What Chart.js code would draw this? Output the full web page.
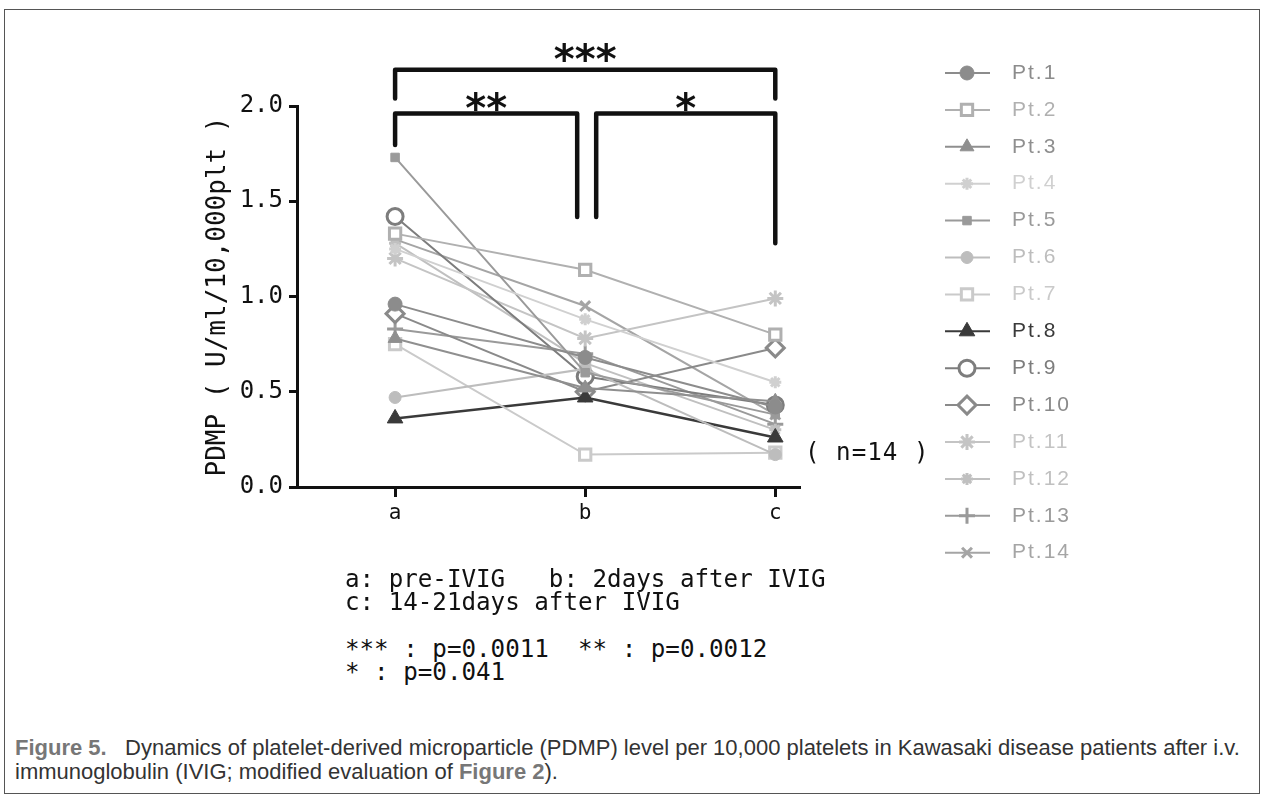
<!DOCTYPE html>
<html>
<head>
<meta charset="utf-8">
<script src="https://cdn.jsdelivr.net/npm/chart.js@4.4.1/dist/chart.umd.min.js"></script>
<style>
  body { margin: 0; background: #fff; width: 1269px; height: 805px; position: relative; overflow: hidden; }
  #frame { position: absolute; left: 4px; top: 9px; width: 1254px; height: 783px; border: 1.5px solid #555; }
  #wrap { position: absolute; left: 0; top: 0; width: 1269px; height: 600px; }
  .note { position: absolute; font-family: "DejaVu Sans Mono", monospace; font-size: 24.2px; color: #111; white-space: pre; line-height: 23px; }
  #caption { position: absolute; left: 15px; top: 736px; font-family: "Liberation Sans", Arial, sans-serif; font-size: 22px; color: #333; line-height: 24px; white-space: pre; }
  #caption b { color: #777; }
</style>
</head>
<body>
<div id="frame"></div>
<div id="wrap"><canvas id="lineChart" width="1269" height="600"></canvas></div>
<div class="note" style="left:345px; top:568px;">a: pre-IVIG   b: 2days after IVIG</div>
<div class="note" style="left:345px; top:591px;">c: 14-21days after IVIG</div>
<div class="note" style="left:345px; top:638px;">*** : p=0.0011  ** : p=0.0012</div>
<div class="note" style="left:345px; top:661px;">* : p=0.041</div>
<div class="note" style="left:805px; top:441px; letter-spacing:1px;">( n=14 )</div>
<div id="caption"><b>Figure 5.</b>   Dynamics of platelet-derived microparticle (PDMP) level per 10,000 platelets in Kawasaki disease patients after i.v.
immunoglobulin (IVIG; modified evaluation of <b>Figure 2</b>).</div>

<script>
const CHART = document.getElementById('lineChart')

const timepoints = ['a', 'b', 'c']
const patients = ['Pt.1', 'Pt.2', 'Pt.3', 'Pt.4', 'Pt.5', 'Pt.6', 'Pt.7',
                  'Pt.8', 'Pt.9', 'Pt.10', 'Pt.11', 'Pt.12', 'Pt.13', 'Pt.14']

// PDMP (U/ml/10,000plt) at a, b, c
const pt1  = [0.96, 0.68, 0.42]
const pt2  = [1.33, 1.14, 0.80]
const pt3  = [0.78, 0.52, 0.45]
const pt4  = [1.25, 0.88, 0.55]
const pt5  = [1.73, 0.60, 0.38]
const pt6  = [0.47, 0.62, 0.17]
const pt7  = [0.75, 0.17, 0.18]
const pt8  = [0.36, 0.47, 0.26]
const pt9  = [1.42, 0.58, 0.43]
const pt10 = [0.91, 0.50, 0.73]
const pt11 = [1.20, 0.78, 0.99]
const pt12 = [1.28, 0.65, 0.30]
const pt13 = [0.83, 0.70, 0.33]
const pt14 = [1.30, 0.95, 0.38]
const series = [pt1, pt2, pt3, pt4, pt5, pt6, pt7, pt8, pt9, pt10, pt11, pt12, pt13, pt14]

const yTicks = [0, 0.5, 1.0, 1.5, 2.0]

// significance brackets (value space)
const brackets = [
    { from: 0, to: 2, top: 2.19, legs: [2.04, 2.04], label: '***', dxFrom: 0, dxTo: 0 },
    { from: 0, to: 1, top: 1.96, legs: [1.795, 1.417], label: '**', dxFrom: 0, dxTo: -8 },
    { from: 1, to: 2, top: 1.96, legs: [1.417, 1.28], label: '*', dxFrom: 11, dxTo: 0 }
]

// look of each patient
const styles = [
    { color: '#8c8c8c', shape: 'circle',   fill: true,  r: 7 },
    { color: '#b0b0b0', shape: 'rect',     fill: false, r: 8 },
    { color: '#8f8f8f', shape: 'triangle', fill: true,  r: 8 },
    { color: '#d0d0d0', shape: 'star',     fill: true,  r: 6 },
    { color: '#9a9a9a', shape: 'rect',     fill: true,  r: 6 },
    { color: '#bdbdbd', shape: 'circle',   fill: true,  r: 6 },
    { color: '#cacaca', shape: 'rect',     fill: false, r: 8 },
    { color: '#3a3a3a', shape: 'triangle', fill: true,  r: 9 },
    { color: '#7d7d7d', shape: 'circle',   fill: false, r: 8 },
    { color: '#8a8a8a', shape: 'rectRot',  fill: false, r: 9 },
    { color: '#c4c4c4', shape: 'star',     fill: true,  r: 8 },
    { color: '#c0c0c0', shape: 'star',     fill: true,  r: 6 },
    { color: '#9a9a9a', shape: 'cross',    fill: true,  r: 8 },
    { color: '#a5a5a5', shape: 'crossRot', fill: true,  r: 7 }
]

const datasets = series.map((vals, i) => {
    const s = styles[i]
    return {
        label: patients[i],
        data: vals.map((v, k) => ({ x: k, y: v })),
        borderColor: s.color,
        backgroundColor: s.color,
        borderWidth: i === 7 ? 2.5 : 2,
        pointStyle: s.shape,
        pointRadius: s.r,
        pointBackgroundColor: s.fill ? s.color : '#ffffff',
        pointBorderColor: s.color,
        pointBorderWidth: s.fill ? (s.shape.startsWith('cross') || s.shape === 'star' ? 3 : 1) : 3,
        fill: false,
        tension: 0
    }
})

const bracketPlugin = {
    id: 'brackets',
    afterDraw(chart) {
        const ctx = chart.ctx
        const xs = chart.scales.x, ys = chart.scales.y
        ctx.save()
        ctx.strokeStyle = '#111'
        ctx.lineWidth = 4.5
        ctx.lineJoin = 'round'
        ctx.lineCap = 'round'
        brackets.forEach(b => {
            const x1 = xs.getPixelForValue(b.from) + b.dxFrom
            const x2 = xs.getPixelForValue(b.to) + b.dxTo
            const yt = ys.getPixelForValue(b.top)
            ctx.beginPath()
            ctx.moveTo(x1, ys.getPixelForValue(b.legs[0]))
            ctx.lineTo(x1, yt)
            ctx.lineTo(x2, yt)
            ctx.lineTo(x2, ys.getPixelForValue(b.legs[1]))
            ctx.stroke()
            ctx.fillStyle = '#111'
            ctx.font = 'bold 40px "DejaVu Sans"'
            ctx.textAlign = 'center'
            ctx.textBaseline = 'alphabetic'
            ctx.fillText(b.label, (x1 + x2) / 2, yt + (b.label === '***' ? 3 : 8))
        })
        ctx.restore()
    }
}

const legendPlugin = {
    id: 'sideLegend',
    afterDraw(chart) {
        const ctx = chart.ctx
        ctx.save()
        chart.data.datasets.forEach((ds, i) => {
            const y = 73 + i * 36.9
            ctx.strokeStyle = ds.borderColor
            ctx.lineWidth = 2
            ctx.beginPath()
            ctx.moveTo(945, y)
            ctx.lineTo(990, y)
            ctx.stroke()
            ctx.fillStyle = ds.pointBackgroundColor
            ctx.strokeStyle = ds.pointBorderColor
            ctx.lineWidth = ds.pointBorderWidth
            Chart.helpers.drawPoint(ctx, { pointStyle: ds.pointStyle, radius: ds.pointRadius, rotation: 0, borderWidth: ds.pointBorderWidth }, 967, y)
            ctx.fillStyle = ds.borderColor
            ctx.font = '21px "Liberation Sans"'
            ctx.letterSpacing = '2px'
            ctx.textAlign = 'left'
            ctx.textBaseline = 'middle'
            ctx.fillText(ds.label, 1012, y)
        })
        ctx.restore()
    }
}

let lineChart = new Chart(CHART, {
    type: 'line',
    data: { datasets: datasets },
    plugins: [bracketPlugin, legendPlugin],
    options: {
        responsive: false,
        animation: false,
        devicePixelRatio: 1,
        layout: { padding: { top: 106, right: 469, left: 0, bottom: 0 } },
        plugins: { legend: { display: false }, tooltip: { enabled: false } },
        scales: {
            x: {
                type: 'linear',
                min: -0.516,
                max: 2.13,
                afterBuildTicks: (scale) => { scale.ticks = timepoints.map((_, i) => ({ value: i })) },
                afterFit: (scale) => { scale.height = 113 },
                ticks: {
                    callback: (v) => timepoints[v],
                    color: '#111',
                    font: { family: '"DejaVu Sans Mono"', size: 21 },
                    padding: 4
                },
                grid: { drawOnChartArea: false, drawTicks: true, tickLength: 10, tickWidth: 3, color: '#111' },
                border: { color: '#111', width: 3 }
            },
            y: {
                min: 0,
                max: 2,
                afterBuildTicks: (scale) => { scale.ticks = yTicks.map(v => ({ value: v })) },
                afterFit: (scale) => { scale.width = 297 },
                ticks: {
                    callback: (v) => v.toFixed(1),
                    color: '#111',
                    font: { family: '"DejaVu Sans Mono"', size: 24 },
                    padding: 6
                },
                grid: { drawOnChartArea: false, drawTicks: true, tickLength: 8, tickWidth: 3, color: '#111' },
                border: { color: '#111', width: 3 },
                title: {
                    display: true,
                    text: 'PDMP ( U/ml/10,000plt )',
                    color: '#111',
                    font: { family: '"DejaVu Sans Mono"', size: 26 },
                    padding: { top: 203, bottom: 0 }
                }
            }
        }
    }
})
</script>
</body>
</html>
